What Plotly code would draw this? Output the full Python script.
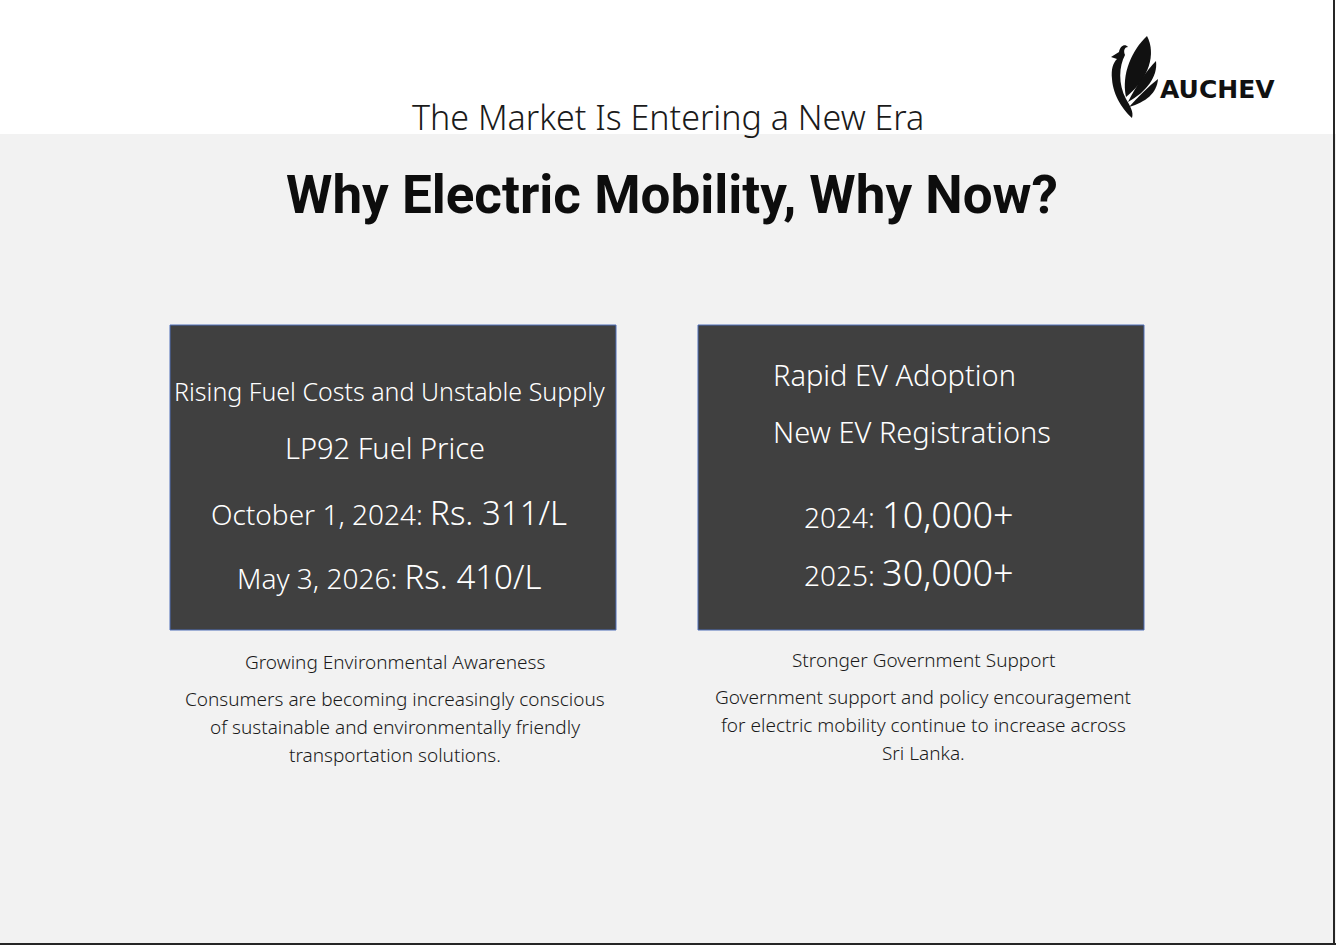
import plotly.graph_objects as go

# slide text
kicker = "The Market Is Entering a New Era"
headline = "Why Electric Mobility, Why Now?"
brand = "AUCHEV"

fuel_title = "Rising Fuel Costs and Unstable Supply"
fuel_sub = "LP92 Fuel Price"
fuel_dates = ["October 1, 2024:", "May 3, 2026:"]
fuel_prices = ["Rs. 311/L", "Rs. 410/L"]

ev_title = "Rapid EV Adoption"
ev_sub = "New EV Registrations"
ev_years = ["2024:", "2025:"]
ev_counts = ["10,000+", "30,000+"]

env_head = "Growing Environmental Awareness"
env_lines = ["Consumers are becoming increasingly conscious",
             "of sustainable and environmentally friendly",
             "transportation solutions."]
gov_head = "Stronger Government Support"
gov_lines = ["Government support and policy encouragement",
             "for electric mobility continue to increase across",
             "Sri Lanka."]

W, H = 1336, 945
BODY = "Noto Sans"
BOX = "#404040"
INK = "#111111"

fig = go.Figure()

shapes = [
    # grey lower band
    dict(type="rect", x0=0, x1=W, y0=134, y1=H, fillcolor="#F2F2F2", line_width=0, layer="below"),
    # two dark cards
    dict(type="rect", x0=170, x1=616, y0=325, y1=630, fillcolor=BOX, line=dict(color="#4F6FB8", width=1)),
    dict(type="rect", x0=698, x1=1144, y0=325, y1=630, fillcolor=BOX, line=dict(color="#4F6FB8", width=1)),
    # frame edges
    dict(type="line", x0=1334, x1=1334, y0=0, y1=H, line=dict(color="#262626", width=2)),
    dict(type="line", x0=0, x1=W, y0=944, y1=944, line=dict(color="#262626", width=2)),
    # logo: bird neck/body
    dict(type="path",
         path="M 1111,57 L 1119,52 C 1120,46 1125,43 1128,47 C 1125,47 1123,50 1125,55 "
              "C 1119,66 1118,84 1126,99 C 1130,106 1134,112 1132,118 "
              "C 1124,111 1113,96 1112,79 C 1111,69 1113,63 1117,59 Z",
         fillcolor=INK, line_width=0),
    # logo: fanned feathers
    dict(type="path", path="M 1126,97 C 1121,74 1132,50 1147,36 C 1156,53 1150,78 1126,97 Z",
         fillcolor=INK, line_width=0),
    dict(type="path", path="M 1128,102 C 1136,86 1146,71 1156,61 C 1158,77 1146,92 1128,102 Z",
         fillcolor=INK, line_width=0),
    dict(type="path", path="M 1129,107 C 1138,97 1148,87 1158,79 C 1157,93 1146,102 1129,107 Z",
         fillcolor=INK, line_width=0),
]

ann = []


def txt(x, y, s, size, color="#1a1a1a", family=BODY, weight=300, xanchor="center"):
    ann.append(dict(x=x, y=y, text=s, showarrow=False, xanchor=xanchor, yanchor="middle",
                    font=dict(family=family, size=size, color=color, weight=weight)))


txt(668, 117, kicker, 34)
txt(672, 195, headline, 53, color="#0d0d0d", family="Roboto", weight=700)
txt(1217, 89, brand, 25, color=INK, family="DejaVu Sans", weight=700)

# left card
txt(389, 391, fuel_title, 25, color="white")
txt(385, 447, fuel_sub, 29, color="white")
for i, (d, p) in enumerate(zip(fuel_dates, fuel_prices)):
    txt(389, 512 + 64 * i, d + " <span style='font-size:33px'>" + p + "</span>", 28, color="white")

# right card
txt(771, 374, ev_title, 29, color="white", xanchor="left")
txt(771, 431, ev_sub, 29, color="white", xanchor="left")
for i, (yr, c) in enumerate(zip(ev_years, ev_counts)):
    txt(802, 514 + 58 * i, yr + " <span style='font-size:36px'>" + c + "</span>", 28,
        color="white", xanchor="left")

# notes under the cards
txt(395, 662, env_head, 19)
for i, s in enumerate(env_lines):
    txt(395, 699 + 28 * i, s, 19)
txt(923, 660, gov_head, 19)
for i, s in enumerate(gov_lines):
    txt(923, 697 + 28 * i, s, 19)

fig.update_layout(
    width=W, height=H,
    margin=dict(l=0, r=0, t=0, b=0),
    paper_bgcolor="white", plot_bgcolor="white",
    xaxis=dict(range=[0, W], visible=False, fixedrange=True),
    yaxis=dict(range=[H, 0], visible=False, fixedrange=True),
    shapes=shapes, annotations=ann,
    showlegend=False,
)

fig.write_html("out.html", config={"displayModeBar": False},
               post_script="document.body.style.margin='0';")
